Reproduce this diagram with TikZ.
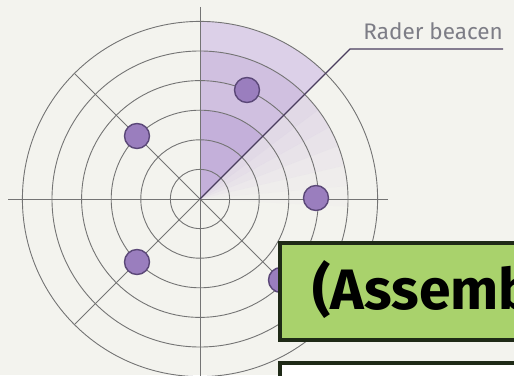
\documentclass[tikz,border=0pt]{standalone}
\usepackage{fontspec}
\setmainfont{Fira Sans}
\usetikzlibrary{calc}
\definecolor{paper}{HTML}{F3F3EE}
\definecolor{gridgrey}{HTML}{747474}
\definecolor{beamline}{HTML}{4A3D5E}
\definecolor{blipfill}{HTML}{9A7EBE}
\definecolor{blipedge}{HTML}{5B4878}
\definecolor{sweepA}{HTML}{DCD0E8}
\definecolor{sweepB}{HTML}{D0C0E0}
\definecolor{sweepC}{HTML}{C4B0DA}
\definecolor{labelgrey}{HTML}{7D7D86}
\definecolor{titlegreen}{HTML}{A9D26C}
\definecolor{boxedge}{HTML}{1F2A17}
\tikzset{
  ring/.style={draw=gridgrey, line width=0.9pt},
  axis/.style={draw=gridgrey, line width=0.9pt},
  beam/.style={draw=beamline, line width=1.4pt},
  blip/.style={circle, fill=blipfill, draw=blipedge, line width=1.4pt, minimum size=25pt, inner sep=0pt},
  panel/.style={draw=boxedge, line width=3.5pt},
}
\begin{document}
\begin{tikzpicture}[x=1pt, y=1pt]
\useasboundingbox (0,0) rectangle (514,375);
\clip (0,0) rectangle (514,375);
\fill[paper] (0,0) rectangle (514,375);

\coordinate (c) at (200,176);

% sweep behind the beam: fading wedges
\foreach \a/\o in {45/0.50, 37/0.40, 29/0.30, 21/0.20, 13/0.11, 5/0.05}{
  \fill[sweepB, opacity=\o] (c) -- ++(\a:148) arc[start angle=\a, end angle=\a-8, radius=148] -- cycle;
}
% sweep sector ahead of the beam
\fill[sweepA] (c) -- ++(90:177.6) arc[start angle=90, end angle=45, radius=177.6] -- cycle;
\fill[sweepB] (c) -- ++(90:148) arc[start angle=90, end angle=45, radius=148] -- cycle;
\fill[sweepC] (c) -- ++(90:88.8) arc[start angle=90, end angle=45, radius=88.8] -- cycle;

% range rings
\foreach \r in {29.6,59.2,88.8,118.4,148,177.6}{
  \draw[ring] (c) circle[radius=\r];
}

% axes and diagonals
\coordinate (top) at (200,368);
\coordinate (bottom) at (200,-2);
\coordinate (left) at (8,176);
\coordinate (right) at (388,176);
\draw[axis] (top) -- (bottom);
\draw[axis] (left) -- (right);
\draw[axis] (c) -- ++(135:177.6);
\draw[axis] (c) -- ++(225:177.6);
\draw[axis] (c) -- ++(315:177.6);

% beam with its leader to the label
\coordinate (knee) at (350,326);
\coordinate (lend) at (503,326);
\draw[beam] (c) -- (knee) -- (lend);
\node[anchor=base east, text=labelgrey, font=\fontsize{22.5}{26}\selectfont, inner sep=0pt] (lbl) at (503,335) {Rader beacen};

% blips
\node[blip] (b1) at (247,285) {};
\node[blip] (b2) at (137,239) {};
\node[blip] (b3) at (316,177) {};
\node[blip] (b4) at (137,113) {};
\node[blip] (b5) at (281,95) {};

% title panel
\draw[panel, fill=titlegreen] (280,132) rectangle (540,35);
\node[anchor=base west, font=\fontsize{57}{62}\selectfont\bfseries, inner sep=0pt] (title) at (312,65) {(Assemb};

% lower panel
\draw[panel, fill=white] (280,12) rectangle (540,-20);
\end{tikzpicture}
\end{document}
